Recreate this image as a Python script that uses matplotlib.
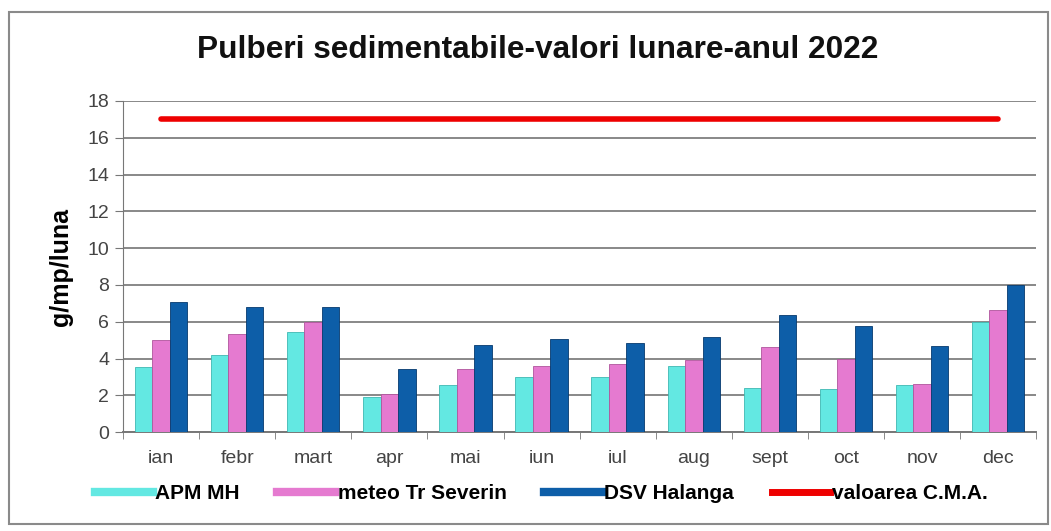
import numpy as np
import matplotlib.pyplot as plt
from matplotlib.lines import Line2D
from matplotlib.patches import Rectangle

plt.rcParams['font.family'] = ['Liberation Sans', 'DejaVu Sans']

months = ['ian', 'febr', 'mart', 'apr', 'mai', 'iun', 'iul', 'aug', 'sept', 'oct', 'nov', 'dec']
apm_mh = [3.55, 4.2, 5.45, 1.9, 2.55, 3.0, 3.0, 3.6, 2.4, 2.35, 2.55, 6.0]
meteo_severin = [5.0, 5.35, 6.0, 2.05, 3.45, 3.6, 3.7, 3.95, 4.65, 4.0, 2.6, 6.65]
dsv_halanga = [7.1, 6.8, 6.8, 3.45, 4.75, 5.05, 4.85, 5.2, 6.35, 5.75, 4.7, 8.0]
cma = [17] * 12

fig = plt.figure(figsize=(10.51, 5.31), dpi=100)
ax = fig.add_axes([0.117, 0.186, 0.869, 0.624])

# border round the whole chart
fig.patches.append(Rectangle((9 / 1051, 7 / 531), 1039 / 1051, 512 / 531,
                             transform=fig.transFigure, fill=False,
                             edgecolor='#8a8a8a', linewidth=1.5))

x = np.arange(len(months))
w = 0.23
ax.bar(x - w, apm_mh, w, color='#63e8e2', edgecolor='#3fb8b2', linewidth=0.6, zorder=3)
ax.bar(x, meteo_severin, w, color='#e57ad0', edgecolor='#b0559c', linewidth=0.6, zorder=3)
ax.bar(x + w, dsv_halanga, w, color='#0d5ea8', edgecolor='#063a6e', linewidth=0.6, zorder=3)
ax.plot(x, cma, color='#ee0000', linewidth=4, solid_capstyle='round', zorder=4)

ax.set_xlim(-0.5, 11.5)
ax.set_ylim(0, 18)
ax.set_yticks(range(0, 19, 2))
ax.set_xticks(x)
ax.set_xticklabels(months)
ax.set_xticks(np.arange(-0.5, 12, 1), minor=True)
ax.tick_params(axis='x', which='major', length=0, pad=13, labelsize=14, labelcolor='#444444')
ax.tick_params(axis='x', which='minor', length=5, color='#777777')
ax.tick_params(axis='y', length=6, color='#777777', labelsize=14, labelcolor='#444444', pad=4)
ax.grid(axis='y', color='#888888', linewidth=1.4, zorder=0)
for s in ['top', 'right']:
    ax.spines[s].set_visible(False)
ax.spines['left'].set_color('#777777')
ax.spines['bottom'].set_color('#777777')
ax.spines['bottom'].set_linewidth(1.4)

ax.set_ylabel('g/mp/luna', fontsize=18, fontweight='bold', labelpad=10)
fig.text(0.512, 0.905, 'Pulberi sedimentabile-valori lunare-anul 2022',
         ha='center', va='center', fontsize=22.8, fontweight='bold', color='#111111')

handles = [
    Line2D([], [], color='#63e8e2', linewidth=6),
    Line2D([], [], color='#e57ad0', linewidth=6),
    Line2D([], [], color='#0d5ea8', linewidth=6),
    Line2D([], [], color='#ee0000', linewidth=5),
]
labels = ['APM MH', 'meteo Tr Severin', 'DSV Halanga', 'valoarea C.M.A.']
fig.legend(handles, labels, loc='center', bbox_to_anchor=(0.515, 0.07), ncol=4,
           frameon=False, handlelength=2.8, handletextpad=0.1, columnspacing=1.8,
           prop={'weight': 'bold', 'size': 15})

fig.savefig('out.png', dpi=100)
